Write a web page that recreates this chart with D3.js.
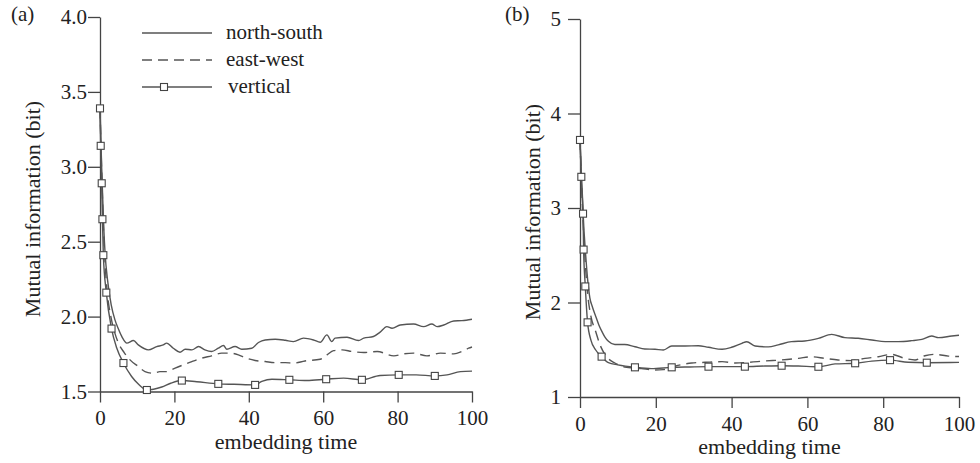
<!DOCTYPE html>
<html>
<head>
<meta charset="utf-8">
<script src="https://cdn.jsdelivr.net/npm/d3@7"></script>
<style>
  body { margin: 0; background: #fff; }
  svg text { font-family: "Liberation Serif", "Times New Roman", "DejaVu Serif", serif; fill: #222; }
</style>
</head>
<body>
<div id="chart"></div>
<script>
// values, [embedding time, mutual information]
var aNorthSouth = [[0,3.39],[0.5,2.95],[1,2.6],[1.4,2.41],[2,2.25],[3,2.08],[4,1.98],[4.9,1.92],[6,1.86],[7.2,1.823],
  [9,1.84],[10.3,1.811],[13,1.778],[15.25,1.8],[17,1.811],[17.9,1.823],[19.7,1.789],[21.5,1.762],[22.9,1.782],
  [24.7,1.778],[26.5,1.8],[28.2,1.778],[30,1.767],[31.8,1.789],[33.2,1.807],[34.1,1.782],[36.3,1.8],[38.1,1.782],
  [40.8,1.789],[42.6,1.827],[44.4,1.844],[47.1,1.849],[49.8,1.842],[52,1.833],[54.7,1.856],[57.4,1.844],[59.2,1.829],
  [61,1.878],[62.3,1.833],[63.2,1.856],[66.4,1.862],[69.5,1.84],[70.9,1.856],[73.5,1.867],[75.3,1.896],[77.1,1.933],
  [78.5,1.922],[80.7,1.944],[84.3,1.951],[87,1.933],[89.2,1.951],[90.6,1.933],[92.4,1.944],[95.1,1.971],[97.3,1.973],[100,1.982]];
var aEastWest = [[0,3.39],[0.5,2.93],[1,2.55],[1.5,2.3],[2,2.15],[3,1.99],[4,1.89],[5,1.82],[6.5,1.76],[8.07,1.711],
  [10.3,1.667],[12.1,1.633],[14.35,1.622],[16.1,1.633],[17.9,1.633],[20.2,1.656],[22.4,1.678],[24.7,1.7],[27.3,1.722],
  [30,1.738],[32.7,1.756],[35,1.756],[37.2,1.745],[39.4,1.722],[41.7,1.707],[44.4,1.7],[47.1,1.693],[49.8,1.693],
  [52,1.689],[55.1,1.704],[59.2,1.715],[61,1.744],[62.8,1.773],[65.1,1.778],[67.7,1.767],[70.9,1.76],[74.5,1.767],
  [79,1.738],[81.6,1.751],[84.3,1.756],[87.9,1.738],[91.5,1.756],[95.1,1.751],[97.3,1.767],[99.1,1.789],[100,1.797]];
var aVertical = [[0,3.39],[0.19,3.14],[0.46,2.89],[0.65,2.65],[0.9,2.41],[1.7,2.16],[3.1,1.92],[4.5,1.79],[6.3,1.69],
  [8.5,1.6],[10.5,1.545],[12.6,1.51],[16.6,1.53],[19,1.555],[22,1.573],[26,1.565],[31.8,1.551],[36,1.548],[41.7,1.544],
  [43.5,1.567],[46.2,1.582],[50.9,1.578],[55.6,1.573],[60.8,1.582],[65.5,1.589],[70.4,1.578],[75.3,1.607],[80.3,1.611],
  [85,1.611],[90,1.604],[93.3,1.611],[96.9,1.633],[100,1.636]];
var aVerticalMarks = [0,0.19,0.46,0.65,0.9,1.7,3.1,6.3,12.6,22,31.8,41.7,50.9,60.8,70.4,80.3,90];

var bNorthSouth = [[0,3.72],[0.5,3.2],[1,2.8],[1.5,2.5],[2,2.25],[2.6,2.05],[3.3,1.95],[4,1.87],[5,1.76],[5.7,1.7],
  [6.5,1.64],[7.5,1.59],[9.2,1.556],[11.8,1.556],[14.5,1.532],[17.1,1.508],[19.8,1.505],[22,1.497],[24.2,1.54],
  [27.7,1.54],[31.2,1.543],[33.9,1.526],[37.5,1.505],[40,1.526],[42.7,1.568],[44,1.585],[46.2,1.54],[49.7,1.53],
  [52.3,1.551],[55.8,1.586],[59.3,1.593],[62.9,1.621],[66.4,1.663],[69.9,1.628],[73.4,1.621],[77,1.603],[80.5,1.586],
  [84,1.586],[87.5,1.596],[90.2,1.61],[92.8,1.646],[94.6,1.628],[98.1,1.646],[100,1.654]];
var bEastWest = [[0,3.72],[0.5,3.15],[1,2.7],[1.5,2.35],[2,2.1],[2.9,1.85],[4,1.71],[5.3,1.55],[7,1.427],[9.2,1.36],
  [11.8,1.318],[16.2,1.3],[19.8,1.286],[22,1.29],[25,1.325],[29.5,1.36],[33,1.367],[37.5,1.374],[41,1.36],[44.5,1.367],
  [48.8,1.381],[53.2,1.392],[57.6,1.409],[61.1,1.426],[64.6,1.409],[68.1,1.392],[71.7,1.385],[75.2,1.409],[78.7,1.426],
  [82.2,1.451],[85.7,1.409],[88.4,1.392],[91,1.437],[93.7,1.451],[97.2,1.433],[100,1.428]];
var bVertical = [[0,3.72],[0.35,3.33],[0.8,2.94],[0.95,2.56],[1.4,2.17],[2,1.79],[2.9,1.6],[4.1,1.5],[5.7,1.427],
  [7.5,1.363],[10,1.34],[14.5,1.314],[18.8,1.3],[24.2,1.314],[29,1.318],[33.9,1.321],[38.5,1.321],[43.5,1.321],
  [48.8,1.328],[53.2,1.331],[57.6,1.328],[62.9,1.32],[67.3,1.35],[72.6,1.357],[77,1.38],[81.8,1.39],[86.6,1.367],
  [91.5,1.363],[100,1.366]];
var bVerticalMarks = [0,0.35,0.8,0.95,1.4,2,5.7,14.5,24.2,33.9,43.5,53.2,62.9,72.6,81.8,91.5];

var xTicks = [0, 20, 40, 60, 80, 100];
var aYTicks = [1.5, 2.0, 2.5, 3.0, 3.5, 4.0];
var bYTicks = [1, 2, 3, 4, 5];
var legendNames = ["north-south", "east-west", "vertical"];

var serif = "'Liberation Serif', 'Times New Roman', 'DejaVu Serif', serif";

var W = 980, H = 463;
var svg = d3.select("#chart").append("svg")
    .attr("width", W)
    .attr("height", H)
    .attr("font-family", serif);

var lineColor = "#555";

function drawPanel(p) {
  var x = d3.scaleLinear().domain([0, 100]).range([p.left, p.right]);
  var y = d3.scaleLinear().domain(p.yDomain).range([p.bottom, p.top]);
  var g = svg.append("g");

  // axes
  var xAxis = g.append("g")
    .attr("transform", "translate(0," + p.bottom + ")")
    .call(d3.axisBottom(x).tickValues(xTicks).tickSize(11).tickSizeOuter(0).tickPadding(p.xPad));
  var yAxis = g.append("g")
    .attr("transform", "translate(" + p.left + ",0)")
    .call(d3.axisLeft(y).tickValues(p.yTicks).tickFormat(p.yFormat).tickSize(12).tickSizeOuter(0).tickPadding(p.yPad));
  [xAxis, yAxis].forEach(function(a) {
    a.attr("font-family", serif).attr("font-size", 21);
    a.select(".domain").attr("stroke", "#444").attr("stroke-width", 1.3);
    a.selectAll(".tick line").attr("stroke", "#444").attr("stroke-width", 1.3);
    a.selectAll(".tick text").attr("fill", "#222");
  });

  // titles
  g.append("text")
    .attr("x", (p.left + p.right) / 2)
    .attr("y", p.bottom + 57)
    .attr("text-anchor", "middle")
    .attr("font-size", 22)
    .text("embedding time");
  g.append("text")
    .attr("transform", "translate(" + p.titleX + "," + p.titleY + ") rotate(-90)")
    .attr("text-anchor", "middle")
    .attr("font-size", 22)
    .text("Mutual information (bit)");
  g.append("text")
    .attr("x", p.labelX)
    .attr("y", 21)
    .attr("font-size", 21)
    .text(p.label);

  var line = d3.line()
    .x(function(d) { return x(d[0]); })
    .y(function(d) { return y(d[1]); })
    .curve(d3.curveMonotoneX);

  g.append("path").datum(p.ns)
    .attr("d", line).attr("fill", "none")
    .attr("stroke", lineColor).attr("stroke-width", 1.4);
  g.append("path").datum(p.ew)
    .attr("d", line).attr("fill", "none")
    .attr("stroke", lineColor).attr("stroke-width", 1.4)
    .attr("stroke-dasharray", "10,6");
  g.append("path").datum(p.vt)
    .attr("d", line).attr("fill", "none")
    .attr("stroke", lineColor).attr("stroke-width", 1.4);

  var marks = p.vt.filter(function(d) { return p.marks.indexOf(d[0]) >= 0; });
  g.selectAll("rect.mark").data(marks).enter()
    .append("rect")
      .attr("class", "mark")
      .attr("x", function(d) { return x(d[0]) - 3.5; })
      .attr("y", function(d) { return y(d[1]) - 3.5; })
      .attr("width", 7)
      .attr("height", 7)
      .attr("fill", "#fff")
      .attr("stroke", "#444")
      .attr("stroke-width", 1.1);
}

drawPanel({
  left: 100, right: 472, top: 17, bottom: 391.5,
  yDomain: [1.5, 4.0], yTicks: aYTicks, yFormat: d3.format(".1f"),
  xPad: 8, yPad: 1, titleX: 40, titleY: 209, labelX: 11, label: "(a)",
  ns: aNorthSouth, ew: aEastWest, vt: aVertical, marks: aVerticalMarks
});

drawPanel({
  left: 580, right: 959, top: 19, bottom: 397,
  yDomain: [1, 5], yTicks: bYTicks, yFormat: d3.format("d"),
  xPad: 8, yPad: 7, titleX: 540, titleY: 212, labelX: 505, label: "(b)",
  ns: bNorthSouth, ew: bEastWest, vt: bVertical, marks: bVerticalMarks
});

// legend (panel a)
var legend = svg.append("g");
legendNames.forEach(function(name, i) {
  var ly = 33 + i * 27;
  legend.append("line")
    .attr("x1", 142).attr("x2", 212)
    .attr("y1", ly).attr("y2", ly)
    .attr("stroke", lineColor).attr("stroke-width", 1.4)
    .attr("stroke-dasharray", i === 1 ? "10,6" : null);
  if (i === 2) {
    legend.append("rect")
      .attr("x", 164 - 3.5).attr("y", ly - 3.5)
      .attr("width", 7).attr("height", 7)
      .attr("fill", "#fff").attr("stroke", "#444").attr("stroke-width", 1.1);
  }
  legend.append("text")
    .attr("x", i === 2 ? 228 : 226)
    .attr("y", ly + 6)
    .attr("font-size", 21)
    .text(name);
});
</script>
</body>
</html>
